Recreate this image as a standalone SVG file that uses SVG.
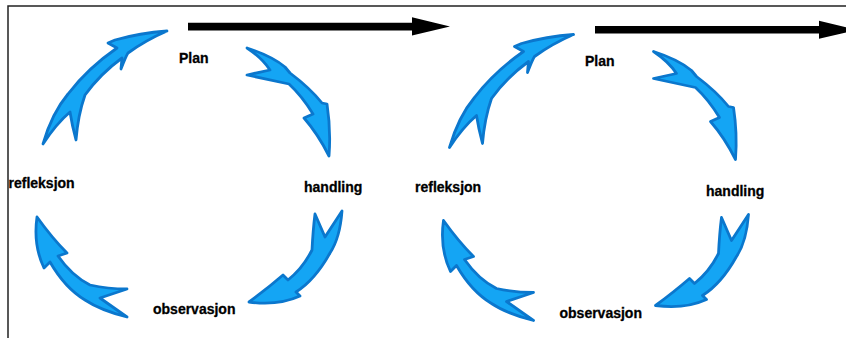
<svg xmlns="http://www.w3.org/2000/svg" xmlns:xlink="http://www.w3.org/1999/xlink" width="846" height="338" viewBox="0 0 846 338">
<style>
.lbl{font-family:"Liberation Sans",Arial,sans-serif;font-weight:bold;font-size:14px;fill:#000;stroke:#000;stroke-width:0.3}
.cyc{fill:#14a5f4;stroke:#0b77cd;stroke-width:2.8;stroke-linejoin:round}
.big{fill:#000}
</style>
<defs>
<path id="a1" d="M167,31 Q140,33 115,40 L108,43 L117,48 Q88,68 68,94 Q52,113 43,144 Q56,124 70,112 Q72,125 76,140 Q78,115 85,95 Q100,74 122,58 L121,69 Q126,56 128,53 Q146,40 167,31 Z"/>
<path id="a2" d="M247,48 Q272,56 285,67 L290,73 Q310,88 322,103 L327,104 Q331,130 329,156 Q318,134 304,118 L313,114 Q302,96 289,84 Q270,80 247,75 L270,70 Q262,58 247,48 Z"/>
<path id="a3" d="M315,214 L325,237 L342,211 Q340,238 330,253 Q315,280 296,292 L300,296 Q278,306 249,302 Q268,288 283,275 L288,280 Q303,268 312,250 Q313,230 315,214 Z"/>
<path id="a4" d="M37,217 Q52,238 67,253 L58,256 Q72,276 90,285 Q108,289 127,289 L100,298 L127,317 Q100,310 85,300 Q65,288 50,262 L44,268 Q33,245 37,217 Z"/>
</defs>
<rect x="8" y="6" width="900" height="400" fill="none" stroke="#222" stroke-width="1.5"/>
<g id="connectors">
<g id="timeline">
<path class="big" d="M188,22.7 H412 V17.3 L450,26.5 L412,35.5 V30.5 H188 Z"/>
<path class="big" d="M595,26 H819 V20.7 L857,29.8 L819,38.8 V33.5 H595 Z"/>
</g>
<g id="cycle1-arrows">
<use xlink:href="#a1" class="cyc"/>
<use xlink:href="#a2" class="cyc"/>
<use xlink:href="#a3" class="cyc"/>
<use xlink:href="#a4" class="cyc"/>
</g>
<g id="cycle2-arrows" transform="translate(406.5,3.5)">
<use xlink:href="#a1" class="cyc"/>
<use xlink:href="#a2" class="cyc"/>
<use xlink:href="#a3" class="cyc"/>
<use xlink:href="#a4" class="cyc"/>
</g>
</g>
<g id="plan1"><text class="lbl" x="179" y="63">Plan</text></g>
<g id="handling1"><text class="lbl" x="304" y="192">handling</text></g>
<g id="observasjon1"><text class="lbl" x="153" y="314">observasjon</text></g>
<g id="refleksjon1"><text class="lbl" x="8.5" y="188">refleksjon</text></g>
<g id="plan2"><text class="lbl" x="585" y="66">Plan</text></g>
<g id="handling2"><text class="lbl" x="706" y="195.5">handling</text></g>
<g id="observasjon2"><text class="lbl" x="559.5" y="317.5">observasjon</text></g>
<g id="refleksjon2"><text class="lbl" x="415" y="191.5">refleksjon</text></g>
</svg>
